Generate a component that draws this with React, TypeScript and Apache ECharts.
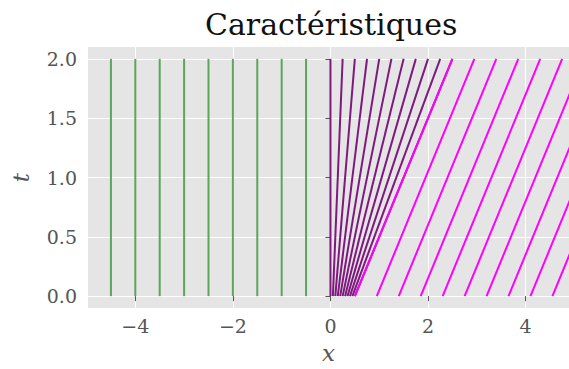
import React, { useEffect, useRef } from "react";
import * as echarts from "echarts";

const titleText = "Caractéristiques";
const timeRange = [0, 2];
const greenStarts = [-4.5, -4, -3.5, -3, -2.5, -2, -1.5, -1, -0.5];
const greenEnds = [-4.5, -4, -3.5, -3, -2.5, -2, -1.5, -1, -0.5];
const fanStarts = [0, 0.05, 0.1, 0.15, 0.2, 0.25, 0.3, 0.35, 0.4, 0.45, 0.5];
const fanEnds = [0, 0.25, 0.5, 0.75, 1.0, 1.25, 1.5, 1.75, 2.0, 2.25, 2.5];
const magentaStarts = [0.5, 0.95, 1.4, 1.85, 2.3, 2.75, 3.2, 3.65, 4.1, 4.55];
const magentaEnds = [2.5, 2.95, 3.4, 3.85, 4.3, 4.75, 5.2, 5.65, 6.1, 6.55];
const xTicks = [-4, -2, 0, 2, 4];
const yTicks = [0, 0.5, 1.0, 1.5, 2.0];

const GREEN = "#5ba65b";
const PURPLE = "#7e1a7e";
const MAGENTA = "#ff00ff";
const FONT = "DejaVu Serif";

function makeSeries(starts: number[], ends: number[], color: string, z: number) {
  return starts.map((s, i) => ({
    type: "line",
    data: [
      [s, timeRange[0]],
      [ends[i], timeRange[1]],
    ],
    showSymbol: false,
    symbol: "none",
    silent: true,
    z,
    lineStyle: { color, width: 2 },
    clip: true,
  }));
}

export default function App() {
  const ref = useRef<HTMLDivElement>(null);
  useEffect(() => {
    if (!ref.current) return;
    const chart = echarts.init(ref.current, undefined, { renderer: "svg" });
    const axisCommon = {
      axisLine: { show: false },
      axisTick: { show: true, length: 5, lineStyle: { color: "#555555", width: 1 } },
      splitLine: { show: true, lineStyle: { color: "#ffffff", width: 1 } },
    };
    chart.setOption({
      animation: false,
      title: {
        text: titleText,
        left: 200,
        top: 4,
        textStyle: { fontFamily: FONT, fontSize: 30, fontWeight: "normal", color: "#111111" },
      },
      grid: {
        left: 88,
        top: 47,
        right: 0,
        bottom: 59,
        show: true,
        backgroundColor: "#e5e5e5",
        borderWidth: 0,
      },
      xAxis: {
        type: "value",
        min: -4.97,
        max: 4.89,
        ...axisCommon,
        axisTick: { ...axisCommon.axisTick, customValues: xTicks },
        axisLabel: {
          customValues: xTicks,
          margin: 8,
          fontFamily: FONT,
          fontSize: 19,
          color: "#555555",
          formatter: (v: number) => (v < 0 ? "\u2212" + Math.abs(v) : String(v)),
        },
        name: "x",
        nameLocation: "middle",
        nameGap: 33,
        nameTextStyle: { fontFamily: FONT, fontStyle: "italic", fontSize: 23, color: "#555555" },
      },
      yAxis: {
        type: "value",
        min: -0.1,
        max: 2.1,
        ...axisCommon,
        axisTick: { ...axisCommon.axisTick, customValues: yTicks },
        axisLabel: {
          customValues: yTicks,
          margin: 11,
          fontFamily: FONT,
          fontSize: 19,
          color: "#555555",
          formatter: (v: number) => v.toFixed(1),
        },
        name: "t",
        nameLocation: "middle",
        nameGap: 56,
        nameRotate: 90,
        nameTextStyle: { fontFamily: FONT, fontStyle: "italic", fontSize: 23, color: "#555555" },
      },
      series: [
        ...makeSeries(greenStarts, greenEnds, GREEN, 2),
        ...makeSeries(fanStarts, fanEnds, PURPLE, 3),
        ...makeSeries(magentaStarts, magentaEnds, MAGENTA, 4),
      ],
    });
    return () => chart.dispose();
  }, []);
  return (
    <div
      ref={ref}
      style={{ position: "fixed", left: 0, top: 0, width: 569, height: 369, background: "#ffffff" }}
    />
  );
}
